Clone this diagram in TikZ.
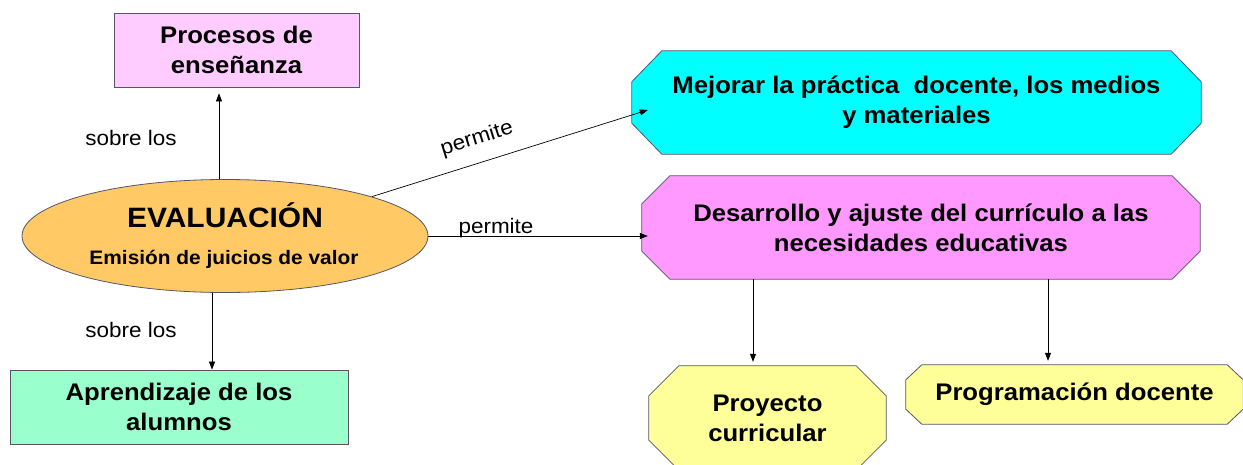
\documentclass[tikz,border=0pt]{standalone}
\usepackage{fontspec}
\setmainfont{Liberation Sans}[FakeStretch=1.07]
\usetikzlibrary{arrows.meta,shapes.geometric,backgrounds}
\definecolor{cpro}{HTML}{FFCCFF}
\definecolor{capr}{HTML}{99FFCC}
\definecolor{cev}{HTML}{FFC966}
\definecolor{cmej}{HTML}{00FFFF}
\definecolor{cdes}{HTML}{FF99FF}
\definecolor{cyel}{HTML}{FFFF99}
\definecolor{edge}{HTML}{555566}
\newcommand\octobox[4]{%
  \draw[#4] ([xshift=#2]#1.north west) -- ([xshift=-#2]#1.north east)
    -- ([yshift=-#3]#1.north east) -- ([yshift=#3]#1.south east)
    -- ([xshift=-#2]#1.south east) -- ([xshift=#2]#1.south west)
    -- ([yshift=#3]#1.south west) -- ([yshift=-#3]#1.north west) -- cycle;}
\tikzset{
  boxtext/.style={align=center,font=\fontsize{24}{30}\selectfont\bfseries,text=black},
  rectbox/.style={boxtext,draw=edge,line width=0.8pt,inner sep=0pt},
  octo/.style={boxtext,inner sep=0pt},
  lbl/.style={font=\fontsize{21}{25}\selectfont,text=black},
  arr/.style={-{Triangle[length=8pt,width=6pt]},line width=0.7pt,black},
  octline/.style={draw=edge,line width=0.8pt}
}
\begin{document}
\begin{tikzpicture}[x=1pt,y=-1pt]
\useasboundingbox (0,0) rectangle (1243,464);
% rectangles
\node[rectbox,fill=cpro,minimum width=245pt,minimum height=74pt] (pro) at (236.5,50) {Procesos de\\enseñanza};
\node[rectbox,fill=capr,minimum width=338pt,minimum height=74pt] (apr) at (179,407) {Aprendizaje de los\\alumnos};
% ellipse
\node[ellipse,draw=edge,line width=0.8pt,fill=cev,minimum width=406pt,minimum height=113pt,inner sep=0pt] (ev) at (225,236) {};
\node[font=\fontsize{28}{30}\selectfont\bfseries,anchor=base] (evt) at (225,227) {EVALUACIÓN};
\node[font=\fontsize{19.5}{22}\selectfont\bfseries,anchor=base] (evs) at (224,264) {Emisión de juicios de valor};
% octagons
\node[octo,minimum width=569pt,minimum height=103pt] (mej) at (916.5,102.5) {Mejorar la práctica \ docente, los medios\\y materiales};
\node[octo,minimum width=558pt,minimum height=103pt] (des) at (921,227.5) {Desarrollo y ajuste del currículo a las\\necesidades educativas};
\node[octo,minimum width=237pt,minimum height=104pt] (pry) at (767.5,418) {Proyecto\\curricular};
\node[octo,minimum width=337pt,minimum height=59pt] (prg) at (1074.5,394.5) {Programación docente};
\begin{pgfonlayer}{background}
\octobox{mej}{30pt}{31pt}{octline,fill=cmej}
\octobox{des}{28pt}{28pt}{octline,fill=cdes}
\octobox{pry}{30pt}{30pt}{octline,fill=cyel}
\octobox{prg}{16pt}{15pt}{octline,fill=cyel}
\end{pgfonlayer}
% connectors
\draw[arr,shorten >=6pt] ([xshift=-6pt]ev.north) -- ([xshift=-6pt]ev.north |- pro.south);
\draw[arr] ([xshift=-13pt]ev.south) -- ([xshift=-13pt]ev.south |- apr.north);
\draw[arr] (ev.east) -- ([xshift=6pt]ev.east -| des.west);
\coordinate (mejtip) at ([xshift=16pt,yshift=-7.5pt]mej.west);
\draw[arr] (ev.15) -- (mejtip);
\draw[arr,shorten >=4pt] ([xshift=-168pt]des.south) -- ([xshift=-168pt]des.south |- pry.north);
\draw[arr,shorten >=4pt] ([xshift=127pt]des.south) -- ([xshift=127pt]des.south |- prg.north);
% labels
\node[lbl] (l1) at (131,138) {sobre los};
\node[lbl] (l2) at (131,330) {sobre los};
\node[lbl,rotate=17.4] (l3) at (477,139) {permite};
\node[lbl] (l4) at (496,228) {permite};
\end{tikzpicture}
\end{document}
